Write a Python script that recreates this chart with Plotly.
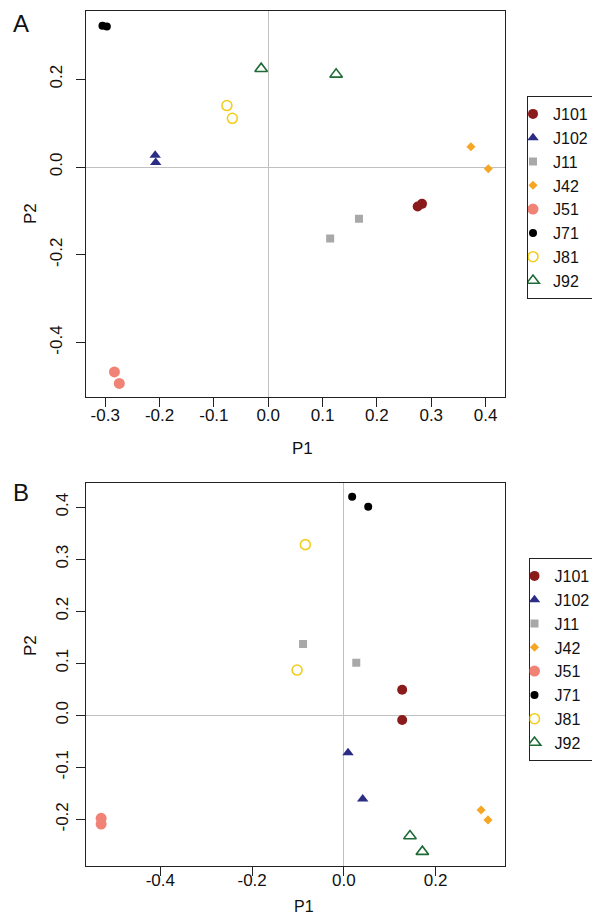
import plotly.graph_objects as go

# ---- data ----
samples = ["J101", "J102", "J11", "J42", "J51", "J71", "J81", "J92"]

# panel A: two replicates per sample
a_p1 = {
    "J101": [0.275, 0.283], "J102": [-0.208, -0.207], "J11": [0.167, 0.114],
    "J42": [0.373, 0.405], "J51": [-0.283, -0.274], "J71": [-0.305, -0.297],
    "J81": [-0.076, -0.066], "J92": [-0.013, 0.125],
}
a_p2 = {
    "J101": [-0.090, -0.084], "J102": [0.027, 0.010], "J11": [-0.118, -0.163],
    "J42": [0.046, -0.004], "J51": [-0.467, -0.493], "J71": [0.322, 0.320],
    "J81": [0.140, 0.111], "J92": [0.224, 0.211],
}

# panel B
b_p1 = {
    "J101": [0.127, 0.127], "J102": [0.009, 0.041], "J11": [-0.089, 0.027],
    "J42": [0.299, 0.314], "J51": [-0.529, -0.529], "J71": [0.018, 0.053],
    "J81": [-0.084, -0.102], "J92": [0.144, 0.171],
}
b_p2 = {
    "J101": [0.049, -0.009], "J102": [-0.072, -0.161], "J11": [0.137, 0.101],
    "J42": [-0.182, -0.201], "J51": [-0.198, -0.209], "J71": [0.420, 0.401],
    "J81": [0.328, 0.087], "J92": [-0.232, -0.262],
}

a_xticks = [-0.3, -0.2, -0.1, 0.0, 0.1, 0.2, 0.3, 0.4]
a_xlabels = ["-0.3", "-0.2", "-0.1", "0.0", "0.1", "0.2", "0.3", "0.4"]
a_yticks = [-0.4, -0.2, 0.0, 0.2]
a_ylabels = ["-0.4", "-0.2", "0.0", "0.2"]
b_xticks = [-0.4, -0.2, 0.0, 0.2]
b_xlabels = ["-0.4", "-0.2", "0.0", "0.2"]
b_yticks = [-0.2, -0.1, 0.0, 0.1, 0.2, 0.3, 0.4]
b_ylabels = ["-0.2", "-0.1", "0.0", "0.1", "0.2", "0.3", "0.4"]

# ---- styles ----
STYLE = {
    "J101": dict(symbol="circle", color="#8B1A1A", size=10),
    "J102": dict(symbol="triangle-up", color="#2B2D84", size=10),
    "J11": dict(symbol="square", color="#A8A8A8", size=8),
    "J42": dict(symbol="diamond", color="#F5A623", size=7),
    "J51": dict(symbol="circle", color="#F08276", size=11),
    "J71": dict(symbol="circle", color="#000000", size=8),
    "J81": dict(symbol="circle-open", color="#F2CD1D", size=10),
    "J92": dict(symbol="triangle-up-open", color="#1F6B35", size=11),
}
FONT = "Liberation Sans, Arial, Helvetica, sans-serif"
BOX = "#222222"
W, H = 600, 914


def px_x(p):
    return p / W


def px_y(p):
    return 1 - p / H


fig = go.Figure()

for s in samples:
    st = STYLE[s]
    mk = dict(symbol=st["symbol"], color=st["color"], size=st["size"],
              line=dict(width=1.6 if "open" in st["symbol"] else 0, color=st["color"]))
    fig.add_trace(go.Scatter(x=a_p1[s], y=a_p2[s], mode="markers", name=s,
                             marker=mk, xaxis="x", yaxis="y", legend="legend"))
    fig.add_trace(go.Scatter(x=b_p1[s], y=b_p2[s], mode="markers", name=s,
                             marker=mk, xaxis="x2", yaxis="y2", legend="legend2"))

axis_common = dict(
    showline=True, linecolor=BOX, linewidth=1.3, mirror=True,
    ticks="outside", ticklen=9, tickwidth=1.3, tickcolor=BOX,
    showgrid=False, zeroline=True, zerolinecolor="#C0C0C0", zerolinewidth=1,
    tickfont=dict(family=FONT, size=17, color="#111111"),
)

dom_x = [px_x(78), px_x(496.5)]
legend_common = dict(xanchor="left", yanchor="top", bordercolor=BOX, borderwidth=1,
                     bgcolor="white", font=dict(family=FONT, size=16, color="#111111"),
                     itemwidth=30, indentation=-15)

fig.update_layout(
    width=W, height=H,
    margin=dict(l=0, r=0, t=0, b=0),
    plot_bgcolor="white", paper_bgcolor="white",
    font=dict(family=FONT, size=16, color="#111111"),
    xaxis=dict(axis_common, domain=dom_x, anchor="y", range=[-0.3353, 0.4348],
               tickvals=a_xticks, ticktext=a_xlabels, ticklabelstandoff=-7),
    yaxis=dict(axis_common, domain=[px_y(389), px_y(3)], anchor="x",
               range=[-0.524, 0.3554], tickvals=a_yticks, ticktext=a_ylabels,
               tickangle=-90, ticklabelstandoff=7),
    xaxis2=dict(axis_common, domain=dom_x, anchor="y2", range=[-0.562, 0.350],
                tickvals=b_xticks, ticktext=b_xlabels, ticklabelstandoff=-10),
    yaxis2=dict(axis_common, domain=[px_y(857.7), px_y(474.7)], anchor="x2",
                range=[-0.289, 0.447], tickvals=b_yticks, ticktext=b_ylabels,
                tickangle=-90, ticklabelstandoff=1),
    legend=dict(legend_common, x=px_x(519), y=px_y(88)),
    legend2=dict(legend_common, x=px_x(520.5), y=px_y(550)),
)

# panel letters and axis titles
labels = [
    ("A", 3, 0, 0, 24, "left", "top"),
    ("B", 3, 469, 0, 24, "left", "top"),
    ("P1", 294, 440, 0, 17, "center", "middle"),
    ("P2", 22, 206, -90, 17, "center", "middle"),
    ("P1", 296, 898, 0, 16, "center", "middle"),
    ("P2", 22, 638, -90, 17, "center", "middle"),
]
for txt, x, y, ang, sz, xa, ya in labels:
    fig.add_annotation(text=txt, x=px_x(x), y=px_y(y), xref="paper", yref="paper",
                       xanchor=xa, yanchor=ya, showarrow=False, textangle=ang,
                       font=dict(family=FONT, size=sz, color="#111111"))

fig.write_html("out.html")
